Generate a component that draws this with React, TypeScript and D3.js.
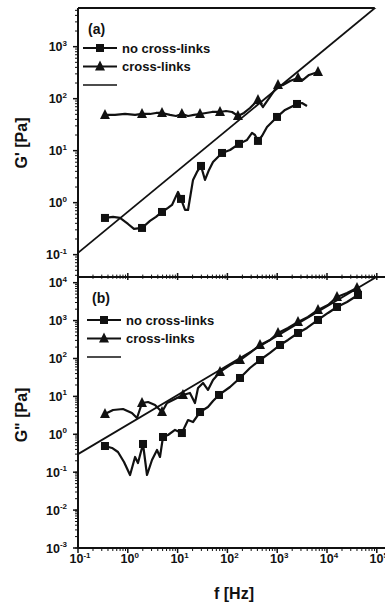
import React from "react";
import * as d3 from "d3";

// ---------- data ----------
// Panel (a): G'
const fA_no = [0.348, 0.505, 0.697, 1.01, 1.33, 1.93, 2.79, 3.68, 4.86, 6.41, 7.72, 10.2, 11.7, 14.1, 16.2, 20.4, 24.5, 29.5, 35.5, 42.7, 51.4, 64.7, 78, 113, 171, 248, 312, 358, 411, 495, 624, 787, 991, 1435, 1892, 2500, 3148, 3963];
const gA_no = [0.508, 0.531, 0.508, 0.389, 0.312, 0.326, 0.445, 0.531, 0.662, 0.791, 0.903, 1.61, 1.18, 0.724, 0.724, 2.74, 3.89, 5.08, 2.74, 4.26, 6.07, 7.57, 9.03, 10.3, 13.5, 16.1, 21.9, 20.0, 15.4, 19.2, 28.6, 35.6, 44.5, 60.7, 69.2, 79.1, 82.6, 72.4];
const mA_no = [0, 5, 8, 12, 17, 22, 24, 28, 32, 35];

const fA_x = [0.348, 0.553, 0.879, 1.40, 1.93, 2.79, 3.68, 4.86, 7.03, 9.29, 12.2, 16.2, 21.3, 28.2, 37.2, 49.1, 71.0, 93.7, 124, 163, 215, 284, 342, 411, 519, 716, 1038, 1306, 1807, 2618, 3296, 4355, 6592];
const gA_x = [48.7, 48.7, 50.8, 48.7, 50.8, 50.8, 53.1, 53.1, 48.7, 46.5, 50.8, 46.5, 48.7, 50.8, 53.1, 55.5, 55.5, 58.0, 55.5, 46.5, 53.1, 66.2, 79.1, 94.4, 69.2, 108, 183, 183, 219, 250, 229, 286, 326];
const mA_x = [0, 4, 7, 10, 13, 16, 19, 23, 26, 29, 32];

// Panel (b): G''
const fB_no = [0.348, 0.482, 0.635, 0.839, 1.11, 1.40, 1.60, 2.02, 2.43, 3.06, 3.86, 4.43, 5.09, 6.41, 8.87, 12.2, 16.2, 20.4, 28.2, 40.7, 51.4, 67.8, 113, 179, 284, 452, 716, 1138, 1648, 2618, 3963, 6592, 10470, 15880, 25230, 41900];
const gB_no = [0.491, 0.436, 0.341, 0.186, 0.0843, 0.252, 0.175, 0.555, 0.0843, 0.210, 0.385, 0.252, 0.849, 0.959, 1.30, 1.08, 2.38, 2.11, 3.87, 5.25, 7.56, 10.9, 17.7, 30.6, 56.1, 91.2, 140, 227, 308, 471, 638, 1038, 1589, 2286, 3097, 4732];
const mB_no = [0, 7, 12, 15, 18, 21, 23, 25, 27, 29, 31, 33, 35];

const fB_x = [0.348, 0.505, 0.802, 1.21, 1.53, 1.93, 2.55, 3.52, 4.86, 6.12, 9.73, 12.8, 17.7, 22.3, 25.7, 32.4, 40.7, 51.4, 71.0, 113, 179, 284, 452, 716, 1038, 1648, 2618, 4150, 6592, 10470, 15880, 25230, 40000];
const gB_x = [3.43, 4.38, 4.65, 3.65, 2.69, 6.70, 7.12, 5.93, 3.87, 6.70, 9.08, 10.9, 12.3, 6.70, 16.7, 22.6, 14.8, 27.1, 44.1, 67.4, 91.2, 140, 227, 308, 471, 638, 918, 1245, 1905, 2582, 4198, 5346, 7244];
const mB_x = [0, 5, 8, 11, 18, 20, 22, 24, 26, 28, 30, 32];

// power-law guide lines: [prefactor at f = 0.1 Hz, exponent]
const lawA = [0.108, 0.79];
const lawB = [0.30, 0.78];

const xTicks = [-1, 0, 1, 2, 3, 4, 5];
const yTicksA = [-1, 0, 1, 2, 3];
const yTicksB = [-3, -2, -1, 0, 1, 2, 3, 4];
const legendLabels = ["no cross-links", "cross-links", ""];

// ---------- layout ----------
const W = 385, H = 605;
const L = 78, R = 376.8;
const A_TOP = 8, MID = 277, B_BOT = 548;
const FONT = "'Liberation Sans', Arial, Helvetica, sans-serif";
const INK = "#111";

const x = d3.scaleLog().domain([0.1, 1e5]).range([L, R]);
const yA = d3.scaleLog().domain([Math.pow(10, -1.43), Math.pow(10, 3.744)]).range([MID, A_TOP]);
const yB = d3.scaleLog().domain([1e-3, Math.pow(10, 4.15)]).range([B_BOT, MID]);

function minorVals(lo: number, hi: number) {
  const out: number[] = [];
  for (let d = Math.floor(lo); d <= Math.ceil(hi); d++) {
    for (let k = 1; k <= 9; k++) {
      const v = k * Math.pow(10, d);
      const lv = Math.log10(v);
      if (lv >= lo - 1e-9 && lv <= hi + 1e-9) out.push(v);
    }
  }
  return out;
}

function Square({ cx, cy }: { cx: number; cy: number }) {
  return <rect x={cx - 4} y={cy - 4} width={8} height={8} fill={INK} />;
}
function Tri({ cx, cy }: { cx: number; cy: number }) {
  const s = 5;
  return <path d={`M${cx},${cy - s - 1}L${cx + s},${cy + s - 1}L${cx - s},${cy + s - 1}Z`} fill={INK} />;
}

function Series({ f, g, m, y, marker }: any) {
  const pts = f.map((v: number, i: number) => [v, g[i]]);
  const line = d3.line<number[]>().x((d) => x(d[0])).y((d) => y(d[1]));
  return (
    <g>
      <path d={line(pts) || ""} fill="none" stroke={INK} strokeWidth={2.2} strokeLinejoin="round" />
      {m.map((i: number) =>
        marker === "sq" ? (
          <Square key={i} cx={x(f[i])} cy={y(g[i])} />
        ) : (
          <Tri key={i} cx={x(f[i])} cy={y(g[i])} />
        )
      )}
    </g>
  );
}

function Law({ law, y, clip }: any) {
  const fs = [0.1, 1e5];
  const pts = fs.map((f) => [f, law[0] * Math.pow(f / 0.1, law[1])]);
  const line = d3.line<number[]>().x((d) => x(d[0])).y((d) => y(d[1]));
  return <path d={line(pts) || ""} fill="none" stroke={INK} strokeWidth={1.8} clipPath={`url(#${clip})`} />;
}

function YAxis({ y, ticks, top, bot }: any) {
  const dom = y.domain().map((v: number) => Math.log10(v));
  const minors = minorVals(dom[0], dom[1]);
  return (
    <g>
      <line x1={L} x2={L} y1={top} y2={bot} stroke={INK} strokeWidth={2} />
      {minors.map((v: number, i: number) => (
        <line key={"m" + i} x1={L - 3} x2={L} y1={y(v)} y2={y(v)} stroke={INK} strokeWidth={1} />
      ))}
      {ticks.map((t: number) => (
        <g key={t}>
          <line x1={L - 5} x2={L} y1={y(Math.pow(10, t))} y2={y(Math.pow(10, t))} stroke={INK} strokeWidth={1.5} />
          <text x={67} y={y(Math.pow(10, t)) + 4.5} textAnchor="end" fontFamily={FONT} fontWeight="bold" fontSize={12.5} fill={INK}>
            10<tspan dy={-5.5} fontSize={8}>{t}</tspan>
          </text>
        </g>
      ))}
    </g>
  );
}

function XTicks({ yPos, dir, len }: any) {
  const minors = minorVals(-1, 5.15);
  return (
    <g>
      {minors.map((v: number, i: number) => {
        const major = Math.abs(Math.log10(v) - Math.round(Math.log10(v))) < 1e-9;
        const l = major ? len : len * 0.6;
        return <line key={i} x1={x(v)} x2={x(v)} y1={yPos} y2={yPos + dir * l} stroke={INK} strokeWidth={major ? 1.5 : 1} />;
      })}
    </g>
  );
}

function Legend({ x0, y0, dy, label, labelY }: any) {
  return (
    <g fontFamily={FONT} fontWeight="bold" fill={INK}>
      <text x={x0 + 5} y={labelY} fontSize={14}>{label}</text>
      {legendLabels.map((t, i) => {
        const yy = y0 + i * dy;
        return (
          <g key={i}>
            <line x1={x0} x2={x0 + 34} y1={yy} y2={yy} stroke={INK} strokeWidth={i === 2 ? 1.3 : 1.8} />
            {i === 0 && <Square cx={x0 + 17} cy={yy} />}
            {i === 1 && <Tri cx={x0 + 17} cy={yy} />}
            {t && (
              <text x={x0 + 39} y={yy + 4.5} fontSize={13}>{t}</text>
            )}
          </g>
        );
      })}
    </g>
  );
}

export default function App() {
  return (
    <svg width={W} height={H} style={{ position: "absolute", left: 0, top: 0, background: "#fff" }}>
      <defs>
        <clipPath id="clipA"><rect x={L} y={A_TOP} width={W - L} height={MID - A_TOP} /></clipPath>
        <clipPath id="clipB"><rect x={L} y={MID} width={W - L} height={B_BOT - MID} /></clipPath>
      </defs>
      <rect x={0} y={0} width={W} height={H} fill="#fff" />

      {/* frames */}
      <line x1={L} x2={R - 2} y1={A_TOP} y2={A_TOP} stroke={INK} strokeWidth={2.2} />
      <line x1={L} x2={W} y1={MID} y2={MID} stroke={INK} strokeWidth={2} />
      <line x1={L} x2={W} y1={B_BOT} y2={B_BOT} stroke={INK} strokeWidth={2} />
      <XTicks yPos={MID} dir={-1} len={4} />
      <XTicks yPos={MID} dir={1} len={3} />
      <XTicks yPos={B_BOT} dir={1} len={5} />

      <YAxis y={yA} ticks={yTicksA} top={A_TOP} bot={MID} />
      <YAxis y={yB} ticks={yTicksB} top={MID} bot={B_BOT} />

      {/* x tick labels */}
      {xTicks.map((t) => (
        <text key={t} x={x(Math.pow(10, t)) + 2} y={563} textAnchor="middle" fontFamily={FONT} fontWeight="bold" fontSize={12.5} fill={INK}>
          10<tspan dy={-5.5} fontSize={8}>{t}</tspan>
        </text>
      ))}

      {/* axis titles */}
      <text x={234} y={599} textAnchor="middle" fontFamily={FONT} fontWeight="bold" fontSize={16} fill={INK}>f [Hz]</text>
      <text transform={`translate(27,143) rotate(-90)`} textAnchor="middle" fontFamily={FONT} fontWeight="bold" fontSize={16} fill={INK}>G' [Pa]</text>
      <text transform={`translate(27,415) rotate(-90)`} textAnchor="middle" fontFamily={FONT} fontWeight="bold" fontSize={16} fill={INK}>G" [Pa]</text>

      {/* panel a */}
      <Law law={lawA} y={yA} clip="clipA" />
      <Series f={fA_no} g={gA_no} m={mA_no} y={yA} marker="sq" />
      <Series f={fA_x} g={gA_x} m={mA_x} y={yA} marker="tri" />
      <Legend x0={83} y0={48} dy={18.5} label="(a)" labelY={34} />

      {/* panel b */}
      <Law law={lawB} y={yB} clip="clipB" />
      <Series f={fB_no} g={gB_no} m={mB_no} y={yB} marker="sq" />
      <Series f={fB_x} g={gB_x} m={mB_x} y={yB} marker="tri" />
      <Legend x0={87} y0={320} dy={18.5} label="(b)" labelY={303} />
    </svg>
  );
}
